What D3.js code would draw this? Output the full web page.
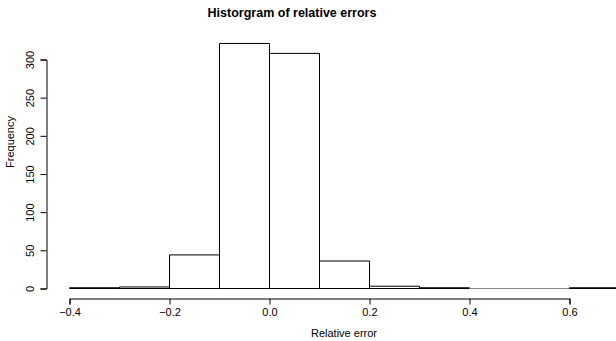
<!DOCTYPE html>
<html>
<head>
<meta charset="utf-8">
<script src="https://cdn.jsdelivr.net/npm/d3@7"></script>
<style>
  body { margin: 0; background: #fff; }
  svg { display: block; font-family: "Liberation Sans", Arial, Helvetica, sans-serif; }
  .axis path, .axis line { stroke: #000; stroke-width: 1; }
  .axis text { font-size: 11px; fill: #000; }
</style>
</head>
<body>
<svg id="container"></svg>
<script>
// histogram bins (left edge, right edge, count)
var binStarts = [-0.4, -0.3, -0.2, -0.1, 0.0, 0.1, 0.2, 0.3, 0.4, 0.5, 0.6];
var binEnds   = [-0.3, -0.2, -0.1, 0.0, 0.1, 0.2, 0.3, 0.4, 0.5, 0.6, 0.7];
var counts    = [1, 2, 44, 321, 308, 36, 3, 1, 0, 0, 1];
var xTicks = [-0.4, -0.2, 0.0, 0.2, 0.4, 0.6];
var yTicks = [0, 50, 100, 150, 200, 250, 300];

function drawChart(){
    var W = 616, H = 341;
    var svg = d3.select("#container").attr("width", W).attr("height", H);

    var bins = binStarts.map((s, i) => ({x0: s, x1: binEnds[i], n: counts[i]}));

    var xScale = d3.scaleLinear().domain([-0.4, 0.6]).range([69.5, 569.5]);
    var yScale = d3.scaleLinear().domain([0, 300]).range([288.5, 59.5]);

    // bars as closed paths so empty bins still show their base line
    svg.append("g").selectAll("path")
        .data(bins)
        .enter()
        .append("path")
        .attr("d", d => {
            var a = xScale(d.x0), b = xScale(d.x1), y0 = yScale(0), y1 = yScale(d.n);
            return "M" + a + "," + y0 + "V" + y1 + "H" + b + "V" + y0 + "Z";
        })
        .attr("fill", "#fff")
        .attr("stroke", d => d.n === 0 ? "#888" : "#000")
        .attr("stroke-width", 1);

    // x axis
    var xAxis = d3.axisBottom(xScale)
        .tickValues(xTicks)
        .tickSizeOuter(0)
        .tickSize(6)
        .tickPadding(4)
        .tickFormat(d3.format(".1f"));
    svg.append("g")
        .attr("class", "axis")
        .attr("transform", "translate(0,298.5)")
        .call(xAxis);

    // y axis
    var yAxis = d3.axisLeft(yScale)
        .tickValues(yTicks)
        .tickSizeOuter(0)
        .tickSize(6);
    var gY = svg.append("g")
        .attr("class", "axis")
        .attr("transform", "translate(46.5,0)")
        .call(yAxis);
    gY.selectAll(".tick text")
        .attr("transform", "rotate(-90)")
        .attr("x", 0)
        .attr("y", -13)
        .attr("dy", 0)
        .attr("text-anchor", "middle");

    // titles
    svg.append("text")
        .attr("x", 292)
        .attr("y", 17)
        .attr("text-anchor", "middle")
        .style("font-size", "12.5px")
        .style("font-weight", "bold")
        .text("Historgram of relative errors");

    svg.append("text")
        .attr("x", 344)
        .attr("y", 337)
        .attr("text-anchor", "middle")
        .style("font-size", "11px")
        .text("Relative error");

    svg.append("text")
        .attr("transform", "translate(14,142) rotate(-90)")
        .attr("text-anchor", "middle")
        .style("font-size", "11px")
        .text("Frequency");
}

drawChart();
</script>
</body>
</html>
